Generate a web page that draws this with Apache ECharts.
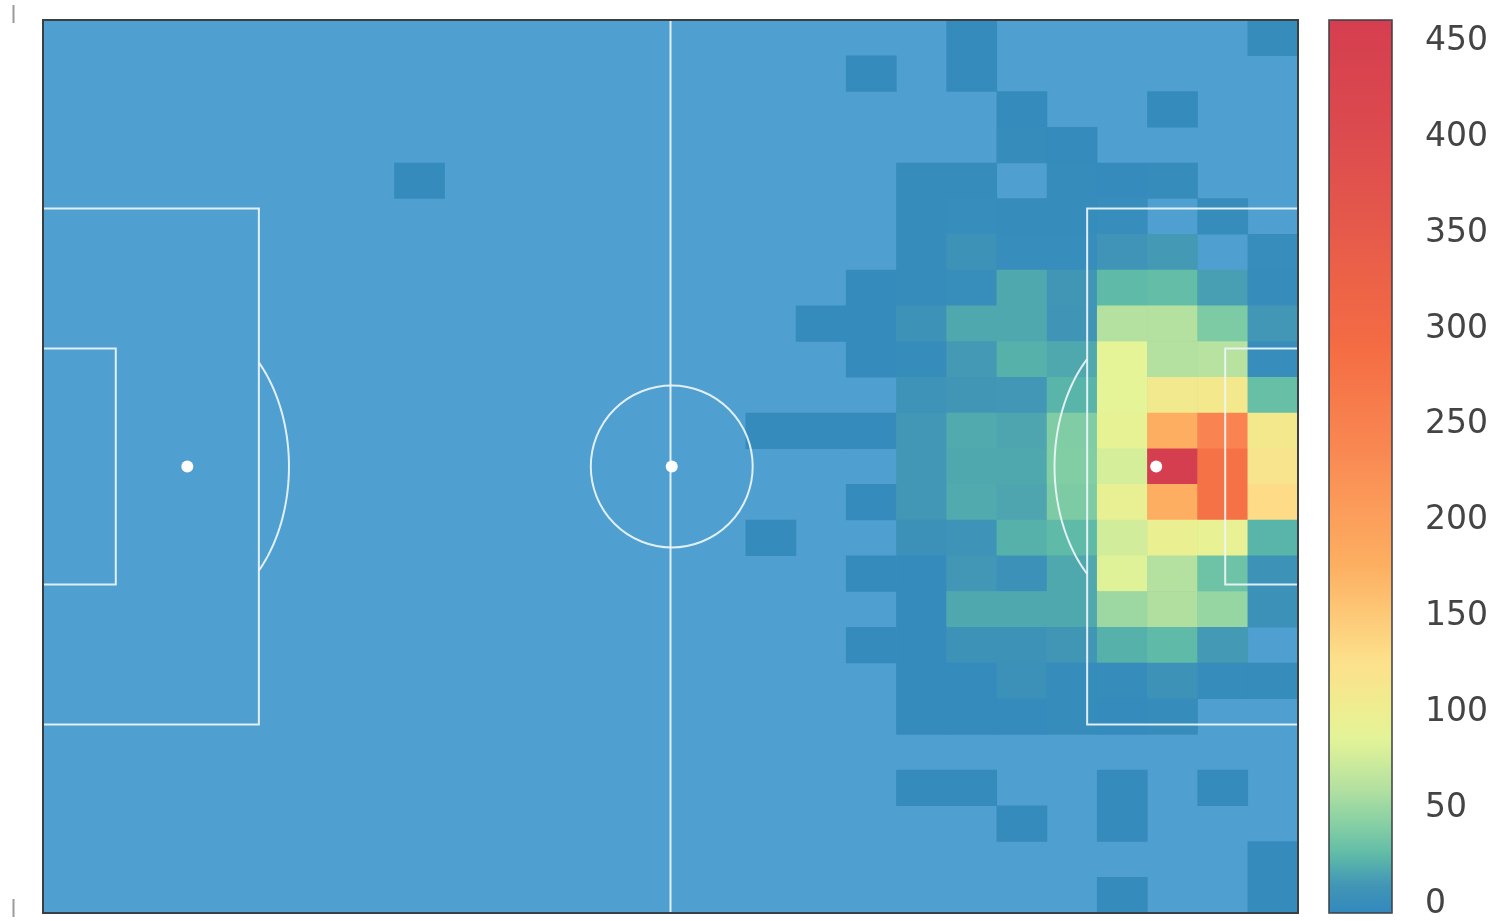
<!DOCTYPE html>
<html>
<head>
<meta charset="utf-8">
<script src="https://cdn.jsdelivr.net/npm/echarts@6/dist/echarts.min.js"></script>
<style>
  html, body { margin: 0; padding: 0; background: #ffffff; }
  #chart { width: 1498px; height: 921px; }
</style>
</head>
<body>
<div id="chart"></div>
<script>
// 25 x 25 bins over the pitch (Opta 0-100 coordinates), columns left -> right, rows top -> bottom
const colBins = ['0','1','2','3','4','5','6','7','8','9','10','11','12','13','14','15','16','17','18','19','20','21','22','23','24'];
const rowBins = ['0','1','2','3','4','5','6','7','8','9','10','11','12','13','14','15','16','17','18','19','20','21','22','23','24'];

// event counts per bin, one row per line
const counts = [
  [0,0,0,0,0,0,0,0,0,0,0,0,0,0, 0,0,0,0,3,0,0,0,0,0,4],
  [0,0,0,0,0,0,0,0,0,0,0,0,0,0, 0,0,3,0,3,0,0,0,0,0,0],
  [0,0,0,0,0,0,0,0,0,0,0,0,0,0, 0,0,0,0,0,3,0,0,3,0,0],
  [0,0,0,0,0,0,0,0,0,0,0,0,0,0, 0,0,0,0,0,4,3,0,0,0,0],
  [0,0,0,0,0,0,0,3,0,0,0,0,0,0, 0,0,0,4,4,0,4,3,4,0,0],
  [0,0,0,0,0,0,0,0,0,0,0,0,0,0, 0,0,0,4,5,4,4,5,0,4,0],
  [0,0,0,0,0,0,0,0,0,0,0,0,0,0, 0,0,0,4,10,5,5,12,16,0,5],
  [0,0,0,0,0,0,0,0,0,0,0,0,0,0, 0,0,3,4,6,22,14,30,32,18,4],
  [0,0,0,0,0,0,0,0,0,0,0,0,0,0, 0,3,3,10,22,22,13,65,65,42,15],
  [0,0,0,0,0,0,0,0,0,0,0,0,0,0, 0,0,3,4,16,26,22,90,65,66,5],
  [0,0,0,0,0,0,0,0,0,0,0,0,0,0, 0,0,0,11,14,15,27,90,112,115,33],
  [0,0,0,0,0,0,0,0,0,0,0,0,0,0, 3,3,3,15,23,21,43,95,180,245,115],
  [0,0,0,0,0,0,0,0,0,0,0,0,0,0, 0,0,0,15,22,22,44,82,460,280,122],
  [0,0,0,0,0,0,0,0,0,0,0,0,0,0, 0,0,3,15,23,21,42,98,180,282,135],
  [0,0,0,0,0,0,0,0,0,0,0,0,0,0, 3,0,0,9,11,26,30,80,100,97,27],
  [0,0,0,0,0,0,0,0,0,0,0,0,0,0, 0,0,3,3,15,9,22,88,65,36,10],
  [0,0,0,0,0,0,0,0,0,0,0,0,0,0, 0,0,0,3,22,22,22,55,63,52,9],
  [0,0,0,0,0,0,0,0,0,0,0,0,0,0, 0,0,3,3,10,10,14,26,30,16,0],
  [0,0,0,0,0,0,0,0,0,0,0,0,0,0, 0,0,0,3,3,9,4,4,10,4,4],
  [0,0,0,0,0,0,0,0,0,0,0,0,0,0, 0,0,0,3,3,3,4,3,4,0,0],
  [0,0,0,0,0,0,0,0,0,0,0,0,0,0, 0,0,0,0,0,0,0,0,0,0,0],
  [0,0,0,0,0,0,0,0,0,0,0,0,0,0, 0,0,0,3,3,0,0,3,0,3,0],
  [0,0,0,0,0,0,0,0,0,0,0,0,0,0, 0,0,0,0,0,3,0,3,0,0,0],
  [0,0,0,0,0,0,0,0,0,0,0,0,0,0, 0,0,0,0,0,0,0,0,0,0,3],
  [0,0,0,0,0,0,0,0,0,0,0,0,0,0, 0,0,0,0,0,0,0,3,0,0,3]
];

// colour bar range and tick labels
const scaleMin = 0;
const scaleMax = 460;
const scaleTicks = [0, 50, 100, 150, 200, 250, 300, 350, 400, 450];

// Spectral-style ramp: [value, colour]
const rampStops = [
  [0, '#3288bd'], [15, '#4297b6'], [30, '#5fbba7'], [45, '#85cfa4'],
  [65, '#b5e1a0'], [90, '#e4f497'], [112, '#f2e98d'], [130, '#fde08b'],
  [180, '#fdae61'], [240, '#f98752'], [290, '#f46d43'], [345, '#e75c4a'],
  [400, '#dc4b4e'], [460, '#d53e4f']
];

function hexToRgb(h) {
  return [parseInt(h.slice(1, 3), 16), parseInt(h.slice(3, 5), 16), parseInt(h.slice(5, 7), 16)];
}
function rampAt(v) {
  for (let i = 0; i < rampStops.length - 1; i++) {
    const [v0, c0] = rampStops[i];
    const [v1, c1] = rampStops[i + 1];
    if (v <= v1) {
      const t = (v - v0) / (v1 - v0);
      const a = hexToRgb(c0), b = hexToRgb(c1);
      const c = a.map((x, k) => Math.round(x + (b[k] - x) * t));
      return 'rgb(' + c.join(',') + ')';
    }
  }
  return rampStops[rampStops.length - 1][1];
}
// evenly spaced colours for the continuous visualMap
const palette = [];
for (let v = scaleMin; v <= scaleMax; v += 5) palette.push(rampAt(v));

// heatmap items: empty bins show the pitch colour underneath
const heatData = [];
counts.forEach((row, r) => row.forEach((v, c) => { if (v > 0) heatData.push([c, r, v]); }));

const PITCH_BG = '#4f9fd0';
const LINE = { stroke: '#eef5fa', lineWidth: 2, fill: 'none', opacity: 0.92 };

function renderPitch(params, api) {
  const p = (x, y) => api.coord([x, y]);
  const kids = [];
  const poly = pts => kids.push({ type: 'polyline', shape: { points: pts }, style: LINE });

  // halfway line
  poly([p(50, 0), p(50, 100)]);
  // penalty areas
  poly([p(0, 21.1), p(17.2, 21.1), p(17.2, 78.9), p(0, 78.9)]);
  poly([p(100, 21.1), p(83.2, 21.1), p(83.2, 78.9), p(100, 78.9)]);
  // six-yard boxes
  poly([p(0, 36.8), p(5.8, 36.8), p(5.8, 63.2), p(0, 63.2)]);
  poly([p(100, 36.8), p(94.2, 36.8), p(94.2, 63.2), p(100, 63.2)]);

  // penalty arcs (ellipse round each spot, outside the box only)
  const arc = (sx, dir, boxX) => {
    const rx = 8.1, ry = 16.4;
    const t0 = Math.acos(Math.abs(boxX - sx) / rx);
    const pts = [];
    for (let i = 0; i <= 48; i++) {
      const a = -t0 + (2 * t0 * i) / 48;
      pts.push(p(sx + dir * rx * Math.cos(a), 50 + ry * Math.sin(a)));
    }
    poly(pts);
  };
  arc(11.5, 1, 17.2);
  arc(88.7, -1, 83.2);

  // centre circle
  const c = p(50.1, 50);
  const rad = api.size([6.45, 0])[0];
  kids.push({ type: 'circle', shape: { cx: c[0], cy: c[1], r: rad }, style: LINE });

  // spots
  [[50.1, 50], [11.5, 50], [88.7, 50]].forEach(s => {
    const q = p(s[0], s[1]);
    kids.push({ type: 'circle', shape: { cx: q[0], cy: q[1], r: 6 }, style: { fill: '#ffffff', stroke: 'none' } });
  });

  // pitch outline
  const tl = p(0, 0), br = p(100, 100);
  kids.push({ type: 'rect', shape: { x: tl[0], y: tl[1], width: br[0] - tl[0], height: br[1] - tl[1] },
              style: { stroke: '#3a3f44', lineWidth: 2, fill: 'none' } });
  return { type: 'group', children: kids };
}

const chart = echarts.init(document.getElementById('chart'), null, { renderer: 'canvas' });
chart.setOption({
  animation: false,
  backgroundColor: '#ffffff',
  grid: [
    { left: 43, top: 20, width: 1255, height: 893, show: true, backgroundColor: PITCH_BG, borderWidth: 0 },
    { left: 1329, top: 22, width: 63, height: 893, show: false }
  ],
  xAxis: [
    { type: 'category', data: colBins, gridIndex: 0, show: false, boundaryGap: true },
    { type: 'value', min: 0, max: 100, gridIndex: 0, show: false },
    { type: 'value', min: 0, max: 1, gridIndex: 1, show: false }
  ],
  yAxis: [
    { type: 'category', data: rowBins, gridIndex: 0, show: false, inverse: true, boundaryGap: true },
    { type: 'value', min: 0, max: 100, gridIndex: 0, show: false, inverse: true },
    {
      type: 'value', gridIndex: 1, position: 'right',
      min: scaleMin, max: scaleMax, interval: 50,
      axisLine: { show: false }, axisTick: { show: false }, splitLine: { show: false },
      axisLabel: {
        margin: 33, fontSize: 33, color: '#444444', fontFamily: 'DejaVu Sans',
        formatter: v => (scaleTicks.indexOf(v) >= 0 ? String(v) : '')
      }
    }
  ],
  visualMap: {
    type: 'continuous',
    seriesIndex: 0,
    dimension: 2,
    min: scaleMin,
    max: scaleMax,
    calculable: false,
    hoverLink: false,
    left: 1329,
    top: 20,
    padding: 0,
    itemWidth: 63,
    itemHeight: 893,
    inRange: { color: palette }
  },
  graphic: [
    { type: 'rect', shape: { x: 1329, y: 20, width: 63, height: 893 }, z: 100,
      style: { fill: 'none', stroke: '#3a3f44', lineWidth: 1.5 } },
    { type: 'line', shape: { x1: 13.5, y1: 5, x2: 13.5, y2: 23 }, z: 100,
      style: { stroke: '#9a9a9a', lineWidth: 2 } },
    { type: 'line', shape: { x1: 13.5, y1: 899, x2: 13.5, y2: 917 }, z: 100,
      style: { stroke: '#9a9a9a', lineWidth: 2 } }
  ],
  series: [
    {
      type: 'heatmap',
      xAxisIndex: 0, yAxisIndex: 0,
      data: heatData,
      z: 2,
      silent: true,
      emphasis: { disabled: true },
      itemStyle: { borderWidth: 0 }
    },
    {
      type: 'custom',
      xAxisIndex: 1, yAxisIndex: 1,
      data: [[50, 50]],
      renderItem: renderPitch,
      clip: false,
      silent: true,
      z: 3
    }
  ]
});
</script>
</body>
</html>
